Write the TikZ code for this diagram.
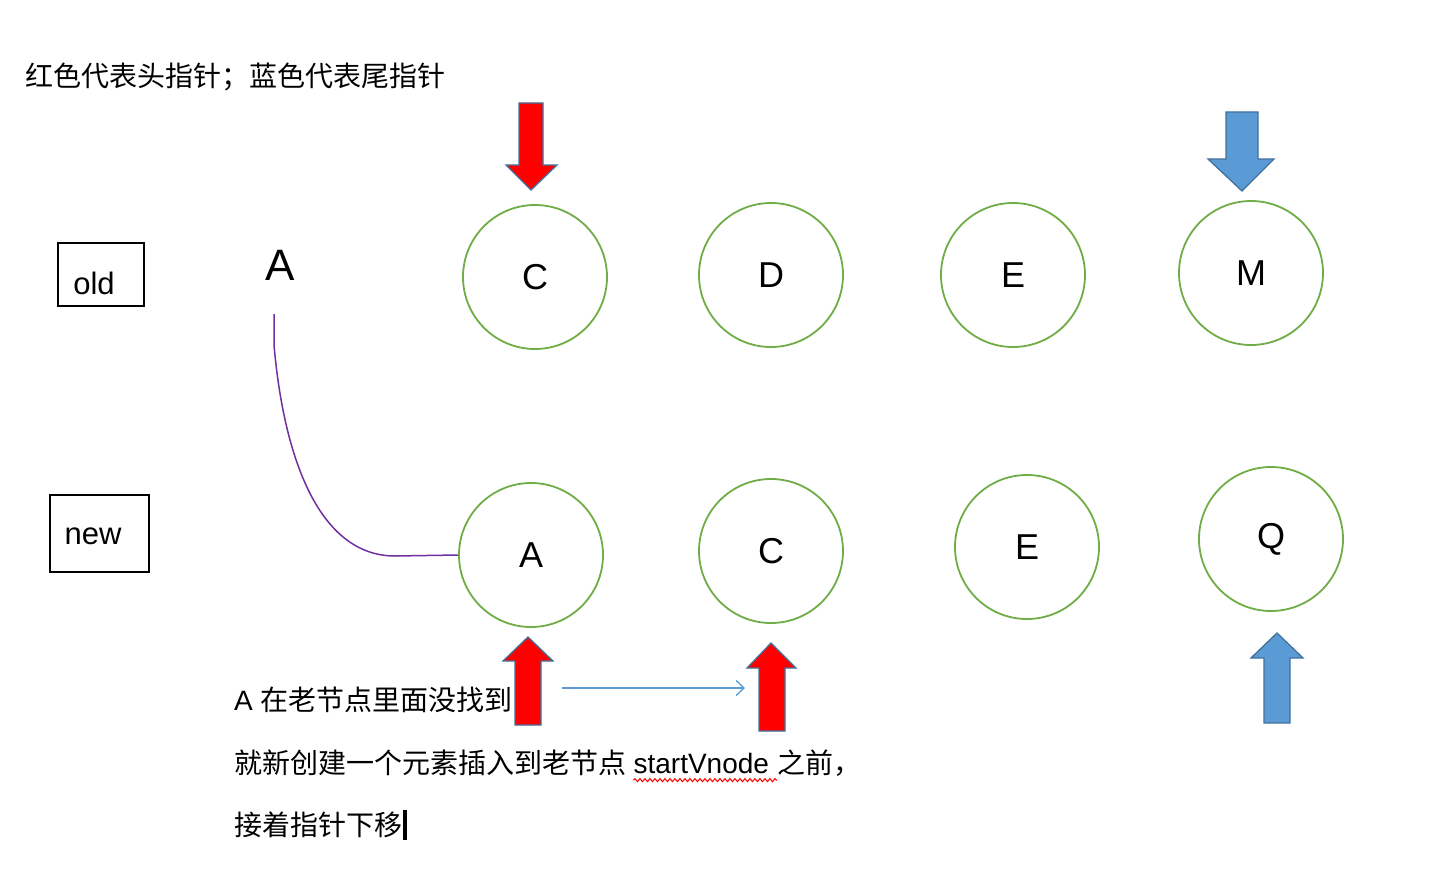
\documentclass[tikz,border=0pt]{standalone}
\usepackage{fontspec}
\setmainfont{Liberation Sans}
\newfontfamily\cjk{Noto Sans CJK SC}
\usetikzlibrary{arrows.meta,positioning,decorations.pathmorphing}
\definecolor{PtrRed}{HTML}{FF0000}
\definecolor{PtrBlue}{HTML}{5B9BD5}
\definecolor{PtrEdge}{HTML}{41719C}
\definecolor{NodeGreen}{HTML}{70AD47}
\definecolor{LinkPurple}{HTML}{7030A0}

\begin{document}
\begin{tikzpicture}[x=1pt,y=-1pt,
    vnode/.style={circle,draw=NodeGreen,line width=1.8pt,minimum size=144pt,inner sep=0pt,font=\fontsize{36}{40}\selectfont},
    tagbox/.style={draw,line width=2.2pt},
    tagtext/.style={inner sep=0pt,font=\fontsize{31}{36}\selectfont},
    note/.style={inner sep=0pt,anchor=west,font=\fontsize{28}{32}\selectfont},
    redptr/.style={fill=PtrRed,draw=PtrEdge,line width=1.3pt},
    blueptr/.style={fill=PtrBlue,draw=PtrEdge,line width=1.3pt}]
        \useasboundingbox (0,0) rectangle (1456,880);
        \fill[white] (0,0) rectangle (1456,880);
        \node[note] (title) at (25,77) {\cjk 红色代表头指针；蓝色代表尾指针};
        % old / new tags
        \draw[tagbox] (58,243) rectangle (144,306);
        \node[tagtext] (oldlabel) at (94,283) {old};
        \draw[tagbox] (50,495) rectangle (149,572);
        \node[tagtext] (newlabel) at (93,536) {new};
        % vnodes
        \foreach \name/\x/\y/\txt in {oldC/535/277/C,oldD/771/275/D,oldE/1013/275/E,oldM/1251/273/M,
                                      newA/531/555/A,newC/771/551/C,newE/1027/547/E,newQ/1271/539/Q}
          \node[vnode] (\name) at (\x,\y) {\txt};
        \node[inner sep=0pt,font=\fontsize{44}{48}\selectfont] (lostA) at (280,265) {A};
        \coordinate (linkstart) at (274,314);
        \draw[LinkPurple,line width=1.5pt] (linkstart) -- ++(0,31)
          .. controls (284,460) and (320,556) .. (395,556) -- (newA.west);
        % pointers
        \draw[redptr] (519,103) -- (543,103) -- (543,165) -- (557,165) -- (531,190) -- (506,165) -- (519,165) -- cycle;
        \draw[blueptr] (1226,112) -- (1258,112) -- (1258,159) -- (1274,159) -- (1242,191) -- (1208,159) -- (1226,159) -- cycle;
        \draw[redptr] (515,725) -- (541,725) -- (541,661) -- (553,661) -- (528,637) -- (503,661) -- (515,661) -- cycle;
        \draw[redptr] (759,731) -- (785,731) -- (785,668) -- (796,668) -- (771,643) -- (747,668) -- (759,668) -- cycle;
        \draw[blueptr] (1264,723) -- (1290,723) -- (1290,658) -- (1303,658) -- (1277,633) -- (1251,658) -- (1264,658) -- cycle;
        \coordinate (slidefrom) at (562,688);
        \coordinate (slideto) at (745,688);
        \draw[PtrBlue,line width=1.3pt,-{Straight Barb[length=8pt,width=15pt]}] (slidefrom) -- (slideto);
        % notes
        \node[note] (step1) at (234,700) {A {\cjk 在老节点里面没找到}};
        \node[note] (step2) at (234,763) {\cjk 就新创建一个元素插入到老节点};
        \node[note,base right=7pt of step2] (vname) {startVnode};
        \node[note,base right=8pt of vname] (step2end) {\cjk 之前，};
        \draw[red,line width=1pt,decorate,decoration={snake,amplitude=1.5pt,segment length=5pt}]
          ([yshift=-6pt]vname.south west) -- ([yshift=-6pt,xshift=8pt]vname.south east);
        \node[note] (step3) at (234,825) {\cjk 接着指针下移};
        \fill ([xshift=1pt]step3.east) ++(0,-15) rectangle ++(4,30);
      \end{tikzpicture}
\end{document}
